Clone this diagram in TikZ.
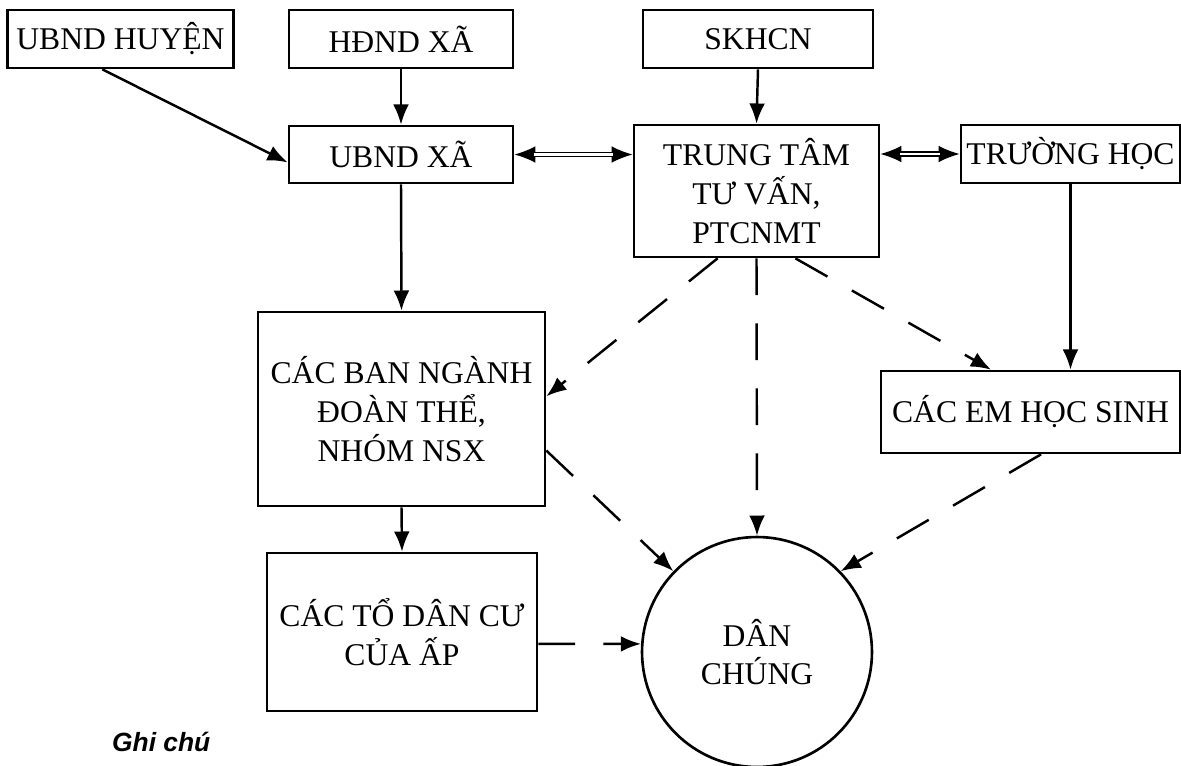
\documentclass[tikz,border=0pt]{standalone}
\usepackage{fontspec}
\setmainfont{Liberation Serif}
\newfontfamily\notefont{Liberation Sans}
\usetikzlibrary{arrows.meta}

\tikzset{
  box/.style={draw, line width=1.5pt, align=center, inner sep=0pt,
    font=\fontsize{18}{22}\selectfont},
  round/.style={box, circle, minimum size=4.6cm},
  arr/.style={-{Latex[length=11.5pt,width=9pt]}, line width=1.4pt},
  dasharr/.style={arr, dash pattern=on 21pt off 16pt},
  tips/.style={{Latex[length=12pt,width=9.5pt]}-{Latex[length=12pt,width=9.5pt]}, line width=1pt},
  twoline/.style={double, double distance=1.6pt, line width=0.7pt, shorten <=11pt, shorten >=11pt}
}

\begin{document}
\begin{tikzpicture}[x=0.02cm, y=-0.02cm]
  \useasboundingbox (0,0) rectangle (1181,765);

  % top row
  \node [box, minimum width=4.52cm, minimum height=1.16cm] (huyen) at (120.5,39) {UBND HUYỆN};
  \node [box, minimum width=4.48cm, minimum height=1.16cm] (hdnd) at (401,39) {HĐND XÃ};
  \node [box, minimum width=4.6cm, minimum height=1.16cm] (skhcn) at (758,39) {SKHCN};

  % second row
  \node [box, minimum width=4.48cm, minimum height=1.14cm] (ubndxa) at (401,154.5) {UBND XÃ};
  \node [box, minimum width=4.9cm, minimum height=2.64cm] (trungtam) at (756.5,191) {TRUNG TÂM\\TƯ VẤN,\\PTCNMT};
  \node [box, minimum width=4.38cm, minimum height=1.16cm] (truong) at (1070.5,154) {TRƯỜNG HỌC};

  % lower part
  \node [box, minimum width=5.74cm, minimum height=3.88cm] (cacban) at (401.5,409) {CÁC BAN NGÀNH\\ĐOÀN THỂ,\\NHÓM NSX};
  \node [box, minimum width=5.98cm, minimum height=1.64cm] (cacem) at (1030.5,412) {CÁC EM HỌC SINH};
  \node [box, minimum width=5.4cm, minimum height=3.16cm] (todan) at (402,632) {CÁC TỔ DÂN CƯ\\CỦA ẤP};
  \node [round] (dan) at (757,652) {DÂN\\CHÚNG};

  \node [font=\notefont\bfseries\itshape\fontsize{15}{17}\selectfont, anchor=west] (note) at (106,742) {Ghi chú};

  % solid arrows
  \draw [arr] (huyen.239) -- (ubndxa.184);
  \foreach \a/\b in {hdnd/ubndxa, skhcn/trungtam, ubndxa/cacban, cacban/todan}
  \draw [arr] (\a.south) -- (\b.north);
  \draw [arr] (truong.south) -- (truong.south |- cacem.north);

  % two-way links
  \draw [tips] (ubndxa.east) -- (ubndxa.east -| trungtam.west);
  \draw [twoline] (ubndxa.east) -- (ubndxa.east -| trungtam.west);
  \draw [tips] (trungtam.east |- truong.west) -- (truong.west);
  \draw [twoline] (trungtam.east |- truong.west) -- (truong.west);

  % dashed arrows
  \draw [dasharr] (trungtam.240) -- (cacban.5);
  \draw [dasharr] (trungtam.south) -- (dan.north);
  \draw [dasharr] (trungtam.300) -- (cacem.133);
  \draw [dasharr] (cacban.-16) -- (dan.136);
  \draw [dasharr] (cacem.-76) -- (dan.44);
  \draw [dasharr] (todan.-5) -- (dan.176);

\end{tikzpicture}
\end{document}
